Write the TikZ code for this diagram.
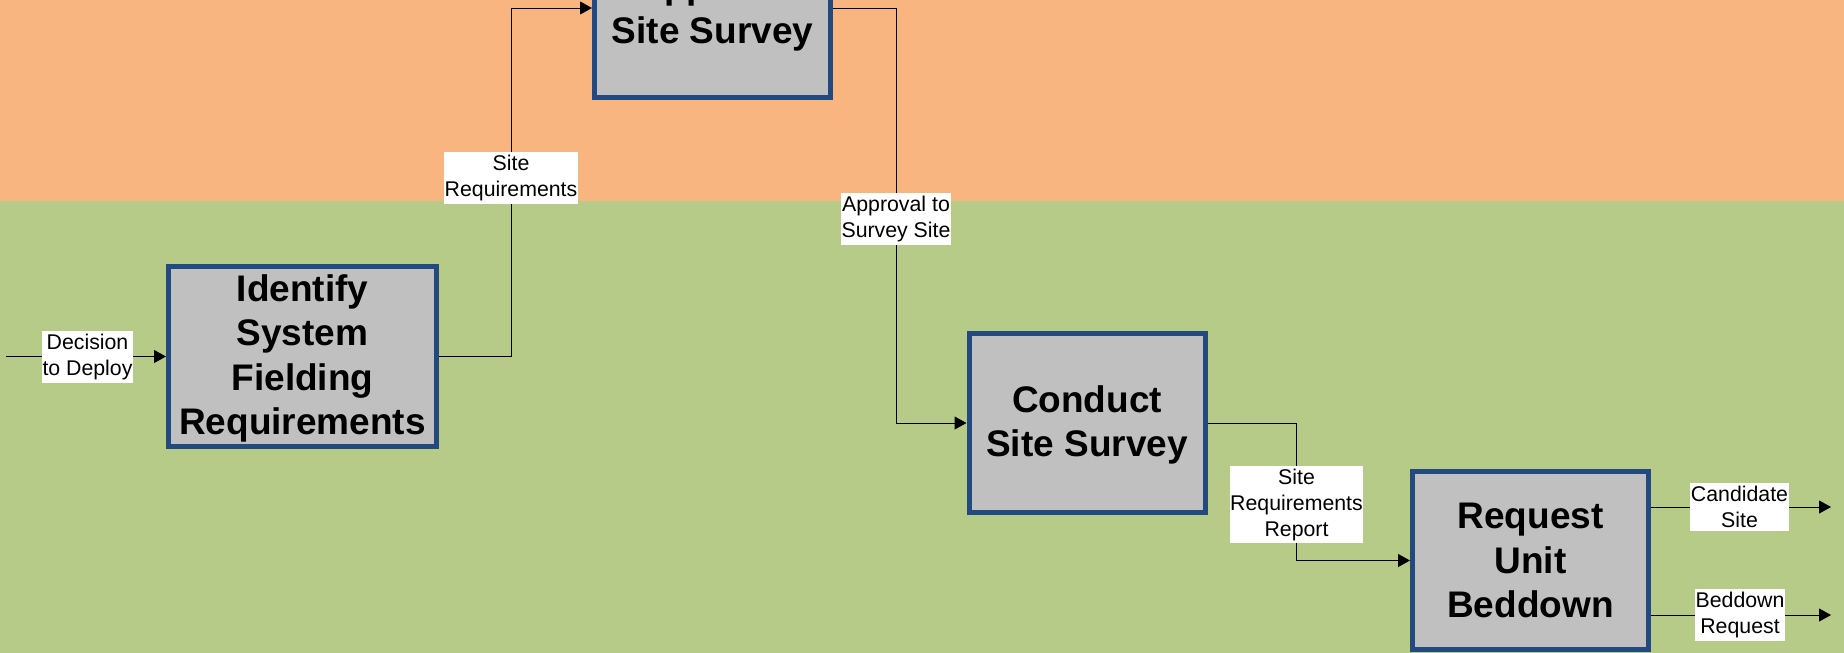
\documentclass[tikz,border=0pt]{standalone}
\usepackage{fontspec}
\setmainfont{Liberation Sans}
\usetikzlibrary{arrows.meta}
\definecolor{bandorange}{RGB}{249,181,128}
\definecolor{bandgreen}{RGB}{183,203,136}
\definecolor{boxgray}{RGB}{192,192,192}
\definecolor{boxblue}{RGB}{35,74,128}
\tikzset{
  procbox/.style={draw=boxblue, line width=5pt, fill=boxgray, inner sep=0pt,
    minimum width=236pt, minimum height=179pt, align=center,
    font=\fontsize{37}{44.5}\selectfont\bfseries},
  conn/.style={draw=black, line width=1pt, -{Triangle[length=12pt,width=13pt]}},
  lbl/.style={fill=white, inner xsep=0.5pt, inner ysep=3pt, align=center,
    font=\fontsize{21.3}{26}\selectfont}
}
\begin{document}
\begin{tikzpicture}[x=1pt,y=-1pt]
\useasboundingbox (0,0) rectangle (1844,653);
\clip (0,0) rectangle (1844,653);
\fill[bandorange] (0,0) rectangle (1844,201);
\fill[bandgreen] (0,201) rectangle (1844,653);

% process boxes
\node[procbox, minimum width=268pt, minimum height=180pt] (ident) at (302.5,356.5) {\rule{0pt}{31pt}Identify\\System\\Fielding\\Requirements};
\node[procbox] (top) at (712.5,8) {\rule{0pt}{34pt}Approve\\Site Survey};
\node[procbox] (conduct) at (1087,423) {\rule{0pt}{31pt}Conduct\\Site Survey};
\node[procbox, minimum height=178pt] (req) at (1530.5,560.5) {Request\\Unit\\Beddown};

% helper coordinates
\coordinate (in0) at (6,356.5);
\coordinate (j1) at (511,0);
\coordinate (j2) at (896.5,0);
\coordinate (j3) at (1296,0);
\coordinate (o1) at (1831,507);
\coordinate (o2) at (1831,615);

% connectors
\draw[conn] (in0) -- (ident.west);
\draw[conn] (ident.east) -| (top.west -| j1) -- (top.west);
\draw[conn] (top.east) -| (conduct.west -| j2) -- (conduct.west);
\draw[conn] (conduct.east) -| (req.west -| j3) -- (req.west);
\draw[conn] (req.east |- o1) -- (o1);
\draw[conn] (req.east |- o2) -- (o2);

% labels
\node[lbl] (l1) at (87.5,357) {Decision\\to Deploy};
\node[lbl] (l2) at (511,178) {Site\\Requirements};
\node[lbl] (l3) at (896,219) {Approval to\\Survey Site};
\node[lbl] (l4) at (1296.5,504.5) {Site\\Requirements\\Report};
\node[lbl] (l5) at (1739.5,507) {Candidate\\Site};
\node[lbl] (l6) at (1740,615) {Beddown\\Request};
\end{tikzpicture}
\end{document}
